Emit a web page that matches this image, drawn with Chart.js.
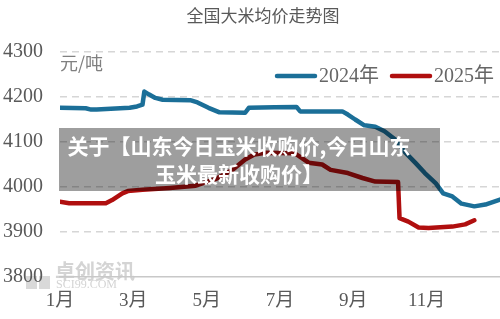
<!DOCTYPE html>
<html>
<head>
<meta charset="utf-8">
<script src="https://cdn.jsdelivr.net/npm/chart.js@4.4.1/dist/chart.umd.min.js"></script>
<style>
  html, body { margin: 0; padding: 0; background: #fff; }
  #wrap { position: relative; width: 500px; height: 319px; }
  #banner { position: absolute; left: 59px; top: 128px; width: 381px; height: 63px; background: rgba(0, 0, 0, 0.38); }
  #banner div { width: 360px; padding-top: 3px; text-align: center; color: #fff; font: bold 21px/28px "Noto Sans CJK SC"; }
</style>
</head>
<body>
<div id="wrap">
  <canvas id="riceChart" width="500" height="319"></canvas>
  <div id="banner"><div>关于【山东今日玉米收购价,今日山东<br>玉米最新收购价】</div></div>
</div>
<script>
// Dados (x em meses desde 1 de janeiro)
const seriesNames = ['2024年', '2025年'];
const monthLabels = ['1月', '3月', '5月', '7月', '9月', '11月'];
const monthTicks = [0, 2, 4, 6, 8, 10];

const months2024 = [0, 0.7, 0.85, 1.0, 1.9, 2.1, 2.25, 2.3, 2.42, 2.6, 2.8, 3.55, 3.75, 4.05, 4.35, 5.05, 5.15, 5.85,
  6.45, 6.55, 7.7, 7.85, 8.05, 8.3, 8.6, 8.85, 9.15, 9.4, 9.7, 9.95, 10.25, 10.45, 10.7, 10.95, 11.3, 11.6, 12.0];
const price2024 = [4176, 4175, 4172, 4172, 4176, 4179, 4183, 4212, 4206, 4198, 4194, 4193, 4188, 4176, 4166, 4165, 4176, 4177,
  4178, 4168, 4168, 4161, 4150, 4137, 4134, 4124, 4105, 4078, 4053, 4031, 4008, 3986, 3979, 3963, 3957, 3961, 3972];

const months2025 = [0, 0.25, 1.25, 1.42, 1.7, 1.85, 2.25, 3.0, 3.7, 4.25, 4.7, 5.05, 5.3, 5.6, 6.4, 6.62, 6.78, 7.15,
  7.38, 7.85, 8.25, 8.6, 9.22, 9.26, 9.5, 9.78, 10.05, 10.7, 11.05, 11.3];
const price2025 = [3967, 3964, 3964, 3971, 3986, 3991, 3994, 3998, 4003, 4018, 4038, 4061, 4072, 4076, 4075, 4063, 4054, 4050,
  4038, 4031, 4020, 4012, 4011, 3931, 3923, 3910, 3909, 3912, 3917, 3926];

const yMin = 3800, yMax = 4300, yStep = 100;

const blue = '#1b6f98';
const red = '#b00f0f';
const textGray = '#595959';

function pontos(xs, ys) {
  return xs.map((m, i) => ({ x: m, y: ys[i] }));
}

// Título, unidade, legenda e marca d'água
const decor = {
  id: 'decor',
  beforeDraw(chart) {
    const ctx = chart.ctx;
    ctx.save();
    ctx.fillStyle = 'rgba(185,185,185,0.55)';
    ctx.fillRect(26, 276, 11, 13);
    ctx.fillRect(39, 276, 11, 13);
    ctx.fillStyle = '#d4d4d4';
    ctx.textBaseline = 'middle';
    ctx.font = 'bold 20px "Noto Sans CJK SC"';
    ctx.fillText('卓创资讯', 55, 271);
    ctx.font = '12px "Liberation Serif"';
    ctx.fillText('SCI99.COM', 56, 285);
    ctx.restore();
  },
  afterDraw(chart) {
    const ctx = chart.ctx;
    ctx.save();
    ctx.textBaseline = 'middle';

    ctx.fillStyle = textGray;
    ctx.textAlign = 'center';
    ctx.font = '17px "Noto Sans CJK SC"';
    ctx.fillText('全国大米均价走势图', 263, 16);

    ctx.textAlign = 'left';
    ctx.fillStyle = '#808080';
    ctx.font = '18px "Noto Sans CJK SC"';
    ctx.fillText('元/吨', 60, 63);

    const legendX = [275, 390];
    chart.data.datasets.forEach((ds, i) => {
      const x = legendX[i];
      ctx.strokeStyle = ds.borderColor;
      ctx.lineWidth = 4.5;
      ctx.lineCap = 'round';
      ctx.beginPath();
      ctx.moveTo(x + 2, 76);
      ctx.lineTo(x + 40, 76);
      ctx.stroke();
      ctx.fillStyle = '#666666';
      ctx.font = '20px "Liberation Serif", "Noto Sans CJK SC"';
      ctx.fillText(ds.label, x + 44, 77);
    });
    ctx.restore();
  }
};

const ctx = document.getElementById('riceChart').getContext('2d');
new Chart(ctx, {
  type: 'line',
  data: {
    datasets: [
      {
        label: seriesNames[0],
        data: pontos(months2024, price2024),
        borderColor: blue,
        backgroundColor: blue,
        borderWidth: 4.5,
        pointRadius: 0,
        tension: 0,
        borderJoinStyle: 'round',
        borderCapStyle: 'round'
      },
      {
        label: seriesNames[1],
        data: pontos(months2025, price2025),
        borderColor: red,
        backgroundColor: red,
        borderWidth: 4.5,
        pointRadius: 0,
        tension: 0,
        borderJoinStyle: 'round',
        borderCapStyle: 'round'
      }
    ]
  },
  options: {
    responsive: false,
    animation: false,
    layout: { padding: { top: 52, right: 0, left: 0, bottom: 0 } },
    plugins: {
      legend: { display: false },
      title: { display: false },
      tooltip: { enabled: false }
    },
    scales: {
      x: {
        type: 'linear',
        min: 0,
        max: 12,
        afterFit(s) { s.height = 42; },
        afterBuildTicks(s) { s.ticks = monthTicks.map(v => ({ value: v })); },
        ticks: {
          autoSkip: false,
          maxRotation: 0,
          padding: 13,
          color: textGray,
          font: { family: '"Liberation Serif", "Noto Sans CJK SC"', size: 19 },
          callback: (v, i) => monthLabels[i]
        },
        grid: { display: false, drawTicks: false },
        border: { display: true, color: '#c8c8c8', width: 1.5 }
      },
      y: {
        min: yMin,
        max: yMax,
        afterFit(s) { s.width = 60; },
        ticks: {
          stepSize: yStep,
          padding: 17,
          color: textGray,
          font: { family: '"Liberation Serif"', size: 20 },
          callback: v => String(v)
        },
        grid: {
          color: c => c.tick && c.tick.value === yMin ? 'rgba(0,0,0,0)' : '#d6d6d6',
          lineWidth: 1.5,
          drawTicks: false
        },
        border: { display: false, dash: [7, 5] }
      }
    }
  },
  plugins: [decor]
});
</script>
</body>
</html>
